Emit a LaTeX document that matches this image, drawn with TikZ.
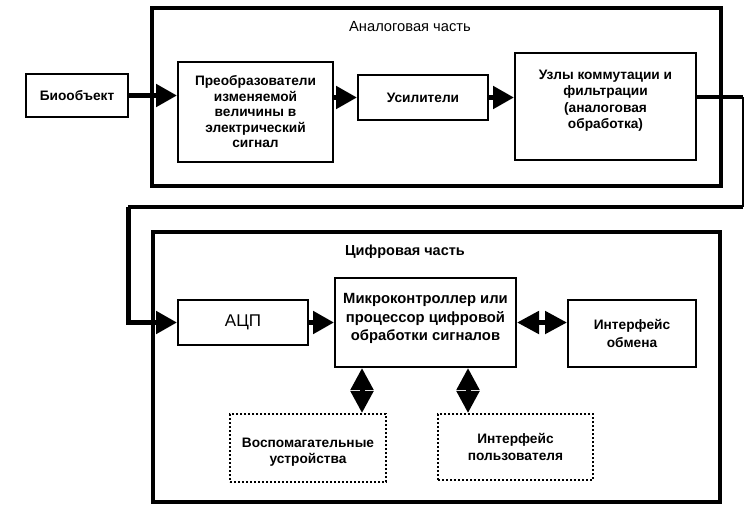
\documentclass[tikz,border=0pt]{standalone}
\usepackage{fontspec}
\setmainfont{Liberation Sans}
\usetikzlibrary{arrows.meta}
\tikzset{
  boxtext/.style={font=\bfseries\fontsize{13.7}{16.5}\selectfont, align=center, inner sep=0pt},
  blk/.style={boxtext, draw, line width=2pt, rectangle},
  dotblk/.style={boxtext, draw, line width=2pt, dotted, rectangle},
  part/.style={draw, line width=4pt},
  flow/.style={line width=5pt, -{Triangle[length=21pt,width=22pt]}},
  both/.style={line width=5pt, {Triangle[length=22pt,width=22pt]}-{Triangle[length=22pt,width=22pt]}},
  link/.style={line width=4pt},
  thinlink/.style={line width=2pt},
  caption/.style={font=\fontsize{14.7}{16}\selectfont, inner sep=0pt}
}
\begin{document}
\begin{tikzpicture}[x=1pt,y=-1pt]
\useasboundingbox (0,0) rectangle (746,504);
% containers
\draw[part] (152,8) rectangle (721,186);
\draw[part] (153,232) rectangle (720,502);
\node[caption] (lanalog) at (410,27) {Аналоговая часть};
\node[caption, font=\bfseries\fontsize{14.5}{16}\selectfont] (ldigital) at (405,252) {Цифровая часть};
% blocks
\node[blk, minimum width=102pt, minimum height=43pt] (bio) at (77,95.5) {Биообъект};
\node[blk, minimum width=155pt, minimum height=100pt, font=\bfseries\fontsize{13.7}{15.5}\selectfont] (preob) at (255.5,112) {Преобразователи\\изменяемой\\величины в\\электрический\\сигнал};
\node[blk, minimum width=130pt, minimum height=45pt] (usil) at (423,97.5) {Усилители};
\node[blk, minimum width=181pt, minimum height=107pt,
  label={[boxtext, yshift=6pt]center:{Узлы коммутации и\\фильтрации\\(аналоговая\\обработка)}}] (uzly) at (605.5,106.5) {};
\node[blk, minimum width=130pt, minimum height=45pt, font=\fontsize{17}{18}\selectfont] (adc) at (243,322.5) {АЦП};
\node[blk, minimum width=181pt, minimum height=89pt,
  label={[boxtext, font=\bfseries\fontsize{14.8}{18.5}\selectfont, yshift=4pt]center:{Микроконтроллер или\\процессор цифровой\\обработки сигналов}}] (mc) at (425.5,322.5) {};
\node[blk, minimum width=128pt, minimum height=67pt, font=\bfseries\fontsize{13.7}{18}\selectfont] (io) at (632,333.5) {Интерфейс\\обмена};
\node[dotblk, minimum width=156pt, minimum height=68pt,
  label={[boxtext, yshift=-4pt]center:{Воспомагательные\\устройства}}] (aux) at (308,448) {};
\node[dotblk, minimum width=155pt, minimum height=66pt] (ui) at (515.5,447) {Интерфейс\\пользователя};
% route coordinates
\coordinate (r1) at (743,97);
\coordinate (r2) at (743,207);
\coordinate (l1) at (128,207);
\coordinate (v1) at (362,0);
\coordinate (v2) at (468,0);
% connectors
\draw[flow] (bio.east) -- (bio.east -| preob.west);
\draw[flow] (usil.west -| preob.east) -- (usil.west);
\draw[flow] (usil.east) -- (usil.east -| uzly.west);
\draw[link] (r1 -| uzly.east) -- (r1);
\draw[thinlink] (r1) -- (r2);
\draw[link] (r2) -- (l1);
\draw[flow] (l1) -- (l1 |- adc.west) -- (adc.west);
\draw[flow] (adc.east) -- (adc.east -| mc.west);
\draw[both] (mc.east) -- (mc.east -| io.west);
\draw[both] (v1 |- mc.south) -- (v1 |- aux.north);
\draw[both] (v2 |- mc.south) -- (v2 |- ui.north);
\end{tikzpicture}
\end{document}
